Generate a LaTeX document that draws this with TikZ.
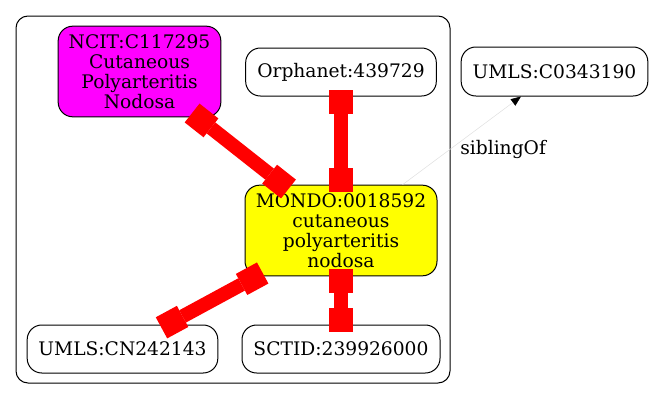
\documentclass[tikz,border=0pt]{standalone}
\usepackage{fontspec}
\setmainfont{DejaVu Serif}
\usetikzlibrary{arrows.meta}
\tikzset{>=latex}
\definecolor{ncitfill}{RGB}{255,0,255}
\definecolor{mondofill}{RGB}{255,255,0}
\definecolor{xrefred}{RGB}{255,0,0}
\tikzset{
  term/.style={draw,line width=0.75pt,rounded corners=11pt,inner sep=0pt,align=center,font=\fontsize{14}{15}\selectfont},
  xref/.style={xrefred,line width=10.5pt,{Square[length=18pt,width=18pt,line width=0pt]}-{Square[length=18pt,width=18pt,line width=0pt]},shorten <=-5.25pt,shorten >=-5.25pt},
  sib/.style={draw=black!12,line width=0.4pt,-{Triangle[length=7.5pt,width=6pt,black]}}
}

\begin{document}
\begin{tikzpicture}[x=0.75pt,y=-0.75pt]
\useasboundingbox (0,0) rectangle (653,400);
\draw[line width=0.75pt,rounded corners=9pt] (16,16) rectangle (450,383);
\node[term,fill=ncitfill,minimum width=122pt,minimum height=68pt] (ncit) at (139.5,71.5) {NCIT:C117295\\Cutaneous\\Polyarteritis\\Nodosa};
\node[term,minimum width=143pt,minimum height=36pt] (orph) at (341,72) {Orphanet:439729};
\node[term,fill=mondofill,minimum width=144pt,minimum height=68pt] (mondo) at (341,230.5) {MONDO:0018592\\cutaneous\\polyarteritis\\nodosa};
\node[term,minimum width=143pt,minimum height=36pt] (cn) at (122.5,349) {UMLS:CN242143};
\node[term,minimum width=148.5pt,minimum height=36pt] (sctid) at (341,349) {SCTID:239926000};
\node[term,minimum width=140pt,minimum height=36.75pt] (umls) at (554.5,71.5) {UMLS:C0343190};
\draw[xref] (ncit) -- (mondo);
\draw[xref] (orph) -- (mondo);
\draw[xref] (mondo) -- (cn);
\draw[xref] (mondo) -- (sctid);
\draw[sib] (mondo) -- node[anchor=west,inner sep=0pt,yshift=-7pt,xshift=-1.3pt,font=\fontsize{14}{15}\selectfont] (lbl) {siblingOf} (umls);
\end{tikzpicture}
\end{document}
